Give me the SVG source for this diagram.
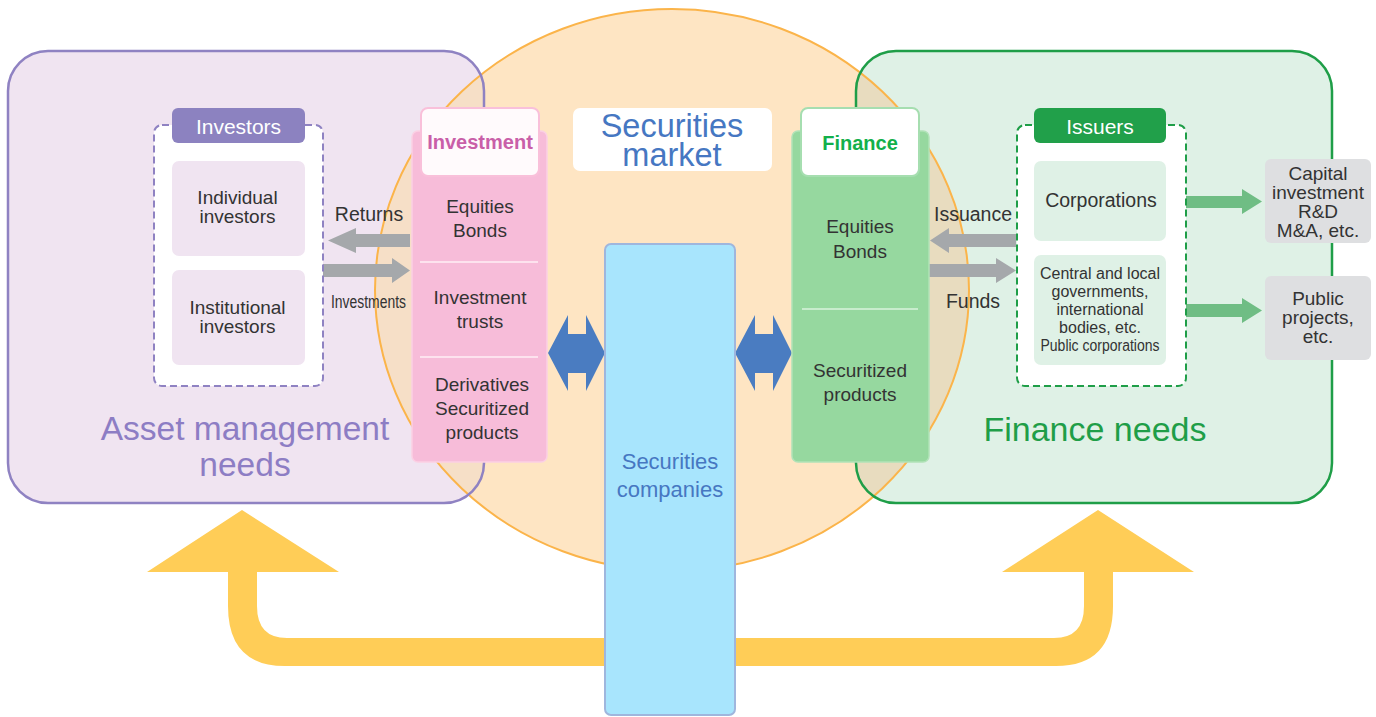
<svg xmlns="http://www.w3.org/2000/svg" width="1376" height="717" viewBox="0 0 1376 717">
<style>
text{font-family:"Liberation Sans",Arial,sans-serif;fill:#333;text-anchor:middle}
.t18{font-size:19px}
.t19{font-size:19px}
.t16{font-size:16px}
.hdr{font-size:21px;fill:#fff}
.blue{fill:#4677c2}
.dash{fill:#fff;stroke-width:2;stroke-dasharray:7 4}
.gray{fill:#a5a8ab}
.garr{fill:#6fbd84}
.gbox{fill:#dedfe1}
</style>
<defs>
<clipPath id="circ"><ellipse cx="672" cy="290" rx="297" ry="281"/></clipPath>
</defs>
<g id="backgrounds">
<rect x="8" y="51" width="476" height="452" rx="40" fill="#f0e4f1"/>
<rect x="856" y="51" width="476" height="452" rx="40" fill="#dff1e6"/>
<ellipse cx="672" cy="290" rx="297" ry="281" fill="#fee5c3"/>
<g clip-path="url(#circ)">
<rect x="8" y="51" width="476" height="452" rx="40" fill="#f6dfc7"/>
<rect x="856" y="51" width="476" height="452" rx="40" fill="#e8dcbf"/>
</g>
<ellipse cx="672" cy="290" rx="297" ry="281" fill="none" stroke="#fbb44a" stroke-width="2"/>
<rect x="8" y="51" width="476" height="452" rx="40" fill="none" stroke="#8f82c2" stroke-width="2.5"/>
<rect x="856" y="51" width="476" height="452" rx="40" fill="none" stroke="#1f9e48" stroke-width="2.5"/>
<text x="245" y="440" style="font-size:33.5px;fill:#8d7dc4">Asset management</text>
<text x="245" y="476" style="font-size:33.5px;fill:#8d7dc4">needs</text>
<text x="1095" y="441" style="font-size:34px;fill:#1f9e48">Finance needs</text>
</g>
<g id="connectors">
<path d="M147 572 L242 510 L339 572 L257 572 L257 606 Q257 638 287 638 L1054 638 Q1084 638 1084 606 L1084 572 L1002 572 L1098 510 L1194 572 L1113 572 L1113 606 Q1113 666 1056 666 L285 666 Q228 666 228 606 L228 572 Z" fill="#ffcd57"/>
<polygon class="gray" points="410,234 356,234 356,228 328,240.5 356,253 356,247 410,247"/>
<polygon class="gray" points="323,264 392,264 392,258 410,270.5 392,283 392,277 323,277"/>
<polygon class="gray" points="1016,234 949,234 949,228 930,240.5 949,253 949,247 1016,247"/>
<polygon class="gray" points="929,264 996,264 996,258 1016,270.5 996,283 996,277 929,277"/>
<polygon class="garr" points="1186,196 1242,196 1242,189 1262,201.5 1242,214 1242,208 1186,208"/>
<polygon class="garr" points="1186,304 1242,304 1242,298 1262,310.5 1242,323 1242,317 1186,317"/>
<polygon fill="#4a7cc1" points="548,353 568,315 568,334 586,334 586,315 605,353 586,391 586,373 568,373 568,391"/>
<polygon fill="#4a7cc1" points="735,353 755,315 755,334 773,334 773,315 792,353 773,391 773,373 755,373 755,391"/>
<text x="369" y="221" style="font-size:19.5px">Returns</text>
<text x="368.5" y="308" style="font-size:18px" textLength="75" lengthAdjust="spacingAndGlyphs">Investments</text>
<text x="973" y="221" style="font-size:19.5px">Issuance</text>
<text x="973" y="308" style="font-size:19.5px">Funds</text>
</g>
<g id="investors">
<rect class="dash" x="154" y="125" width="169" height="261" rx="8" stroke="#8f82c2"/>
<rect x="172" y="108" width="133" height="35" rx="6" fill="#8c82c0"/>
<text class="hdr" x="238.5" y="134">Investors</text>
<rect x="172" y="161" width="133" height="95" rx="7" fill="#f0e4f1"/>
<text class="t18" x="237.5" y="204">Individual</text>
<text class="t18" x="237.5" y="223">investors</text>
<rect x="172" y="270" width="133" height="95" rx="7" fill="#f0e4f1"/>
<text class="t18" x="237.5" y="314">Institutional</text>
<text class="t18" x="237.5" y="333">investors</text>
</g>
<g id="investment">
<rect x="412" y="131" width="135" height="331" rx="6" fill="#f7bcd9" stroke="#fbd0e4" stroke-width="1.5"/>
<rect x="421" y="108" width="118" height="68" rx="7" fill="#fffafc" stroke="#f9c0da" stroke-width="2"/>
<text x="480" y="149" style="font-size:20px;font-weight:bold;fill:#c95fa8">Investment</text>
<line x1="420" y1="262" x2="538" y2="262" stroke="#fde2ee" stroke-width="2"/>
<line x1="420" y1="357" x2="538" y2="357" stroke="#fde2ee" stroke-width="2"/>
<text class="t18" x="480" y="213">Equities</text>
<text class="t18" x="480" y="237">Bonds</text>
<text class="t18" x="480" y="304">Investment</text>
<text class="t18" x="480" y="328">trusts</text>
<text class="t18" x="482" y="391">Derivatives</text>
<text class="t18" x="482" y="415">Securitized</text>
<text class="t18" x="482" y="439">products</text>
</g>
<g id="market">
<rect x="573" y="108" width="199" height="63" rx="7" fill="#fff"/>
<text class="blue" x="672" y="137" style="font-size:32.5px">Securities</text>
<text class="blue" x="672" y="166" style="font-size:32.5px">market</text>
</g>
<g id="companies">
<rect x="605" y="244" width="130" height="471" rx="6" fill="#a8e5fd" stroke="#9fb6dd" stroke-width="2"/>
<text class="blue" x="670" y="469" style="font-size:22px">Securities</text>
<text class="blue" x="670" y="497" style="font-size:22px">companies</text>
</g>
<g id="finance">
<rect x="792" y="131" width="137" height="331" rx="6" fill="#96d89f" stroke="#b1e2b8" stroke-width="1.5"/>
<rect x="801" y="108" width="118" height="68" rx="7" fill="#fff" stroke="#a6deb0" stroke-width="2"/>
<text x="860" y="150" style="font-size:20px;font-weight:bold;fill:#13b04b">Finance</text>
<line x1="802" y1="309" x2="918" y2="309" stroke="#c8eccd" stroke-width="2"/>
<text class="t18" x="860" y="233">Equities</text>
<text class="t18" x="860" y="258">Bonds</text>
<text class="t18" x="860" y="377">Securitized</text>
<text class="t18" x="860" y="401">products</text>
</g>
<g id="issuers">
<rect class="dash" x="1017" y="125" width="169" height="261" rx="8" stroke="#1f9e48"/>
<rect x="1034" y="108" width="132" height="35" rx="6" fill="#21a04a"/>
<text class="hdr" x="1100" y="134">Issuers</text>
<rect x="1034" y="161" width="132" height="80" rx="7" fill="#dff1e6"/>
<text x="1101" y="207" style="font-size:19.5px">Corporations</text>
<rect x="1034" y="255" width="132" height="110" rx="7" fill="#dff1e6"/>
<text class="t16" x="1100" y="279">Central and local</text>
<text class="t16" x="1100" y="297">governments,</text>
<text class="t16" x="1100" y="315">international</text>
<text class="t16" x="1100" y="333">bodies, etc.</text>
<text x="1100" y="351" style="font-size:16px" textLength="119" lengthAdjust="spacingAndGlyphs">Public corporations</text>
</g>
<g id="uses-capital">
<rect class="gbox" x="1265" y="159" width="106" height="84" rx="6"/>
<text class="t19" x="1318" y="180">Capital</text>
<text class="t19" x="1318" y="199">investment</text>
<text class="t19" x="1318" y="218">R&amp;D</text>
<text class="t19" x="1318" y="237">M&amp;A, etc.</text>
</g>
<g id="uses-public">
<rect class="gbox" x="1265" y="276" width="106" height="84" rx="6"/>
<text class="t19" x="1318" y="305">Public</text>
<text class="t19" x="1318" y="324">projects,</text>
<text class="t19" x="1318" y="343">etc.</text>
</g>
</svg>
